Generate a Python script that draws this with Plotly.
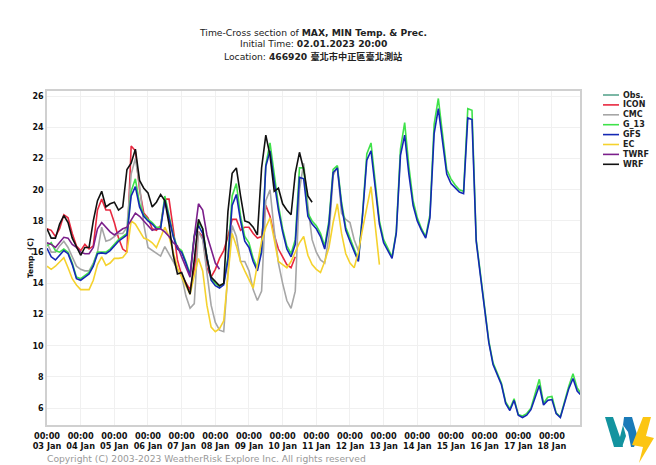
import pandas as pd
import plotly.graph_objects as go

# 3-hourly forecasts, every series starts at 03 Jan 00:00
icon = [17.5, 17.4, 17.0, 17.5, 18.4, 18.2, 17.2, 16.4, 16.1, 16.5, 16.2, 16.4, 18.7, 19.4, 18.7, 18.7,
        17.9, 16.9, 16.2, 16.0, 22.8, 22.5, 20.0, 18.5, 18.2, 17.5, 17.4, 17.7, 19.4, 19.4, 17.5, 15.5,
        14.5, 14.0, 13.6, 14.9, 17.3, 17.0, 15.0, 14.4, 14.9, 15.6, 16.1, 17.0, 18.1, 18.1, 17.4, 17.6,
        17.6, 17.2, 16.9, 17.0, 19.0, 18.3, 17.1, 16.2, 15.7, 15.2, 15.0, 15.7]
cmc = [16.6, 16.0, 16.0, 16.4, 16.7, 16.3, 15.7, 15.1, 14.9, 14.8, 14.8, 15.3, 16.0, 17.6, 16.7, 16.8,
       17.0, 17.2, 17.2, 17.6, 21.0, 22.0, 20.3, 17.8, 16.3, 16.1, 15.95, 15.75, 16.35, 15.9, 15.4, 14.9,
       14.5, 13.2, 12.4, 12.7, 17.3, 16.8, 14.5, 12.6, 11.5, 11.0, 10.9, 14.7, 17.7, 17.0, 15.4, 15.4,
       14.8, 13.6, 12.9, 13.5, 19.3, 20.0, 17.4, 15.3, 14.0, 12.9, 12.4, 13.5, 20.0, 21.7, 19.0, 16.8,
       16.0, 15.5, 15.3, 17.0, 20.9, 21.5, 18.5, 18.1, 17.9, 16.8, 16.1]
g_13 = [16.4, 16.6, 16.1, 16.0, 16.2, 16.0, 15.3, 14.4, 14.3, 14.5, 14.7, 15.2, 16.0, 16.0, 16.0, 16.2,
        16.5, 16.8, 17.0, 17.2, 19.9, 20.7, 19.1, 18.4, 18.1, 17.9, 17.6, 17.6, 19.6, 18.4, 17.1, 16.3,
        16.1, 15.4, 14.6, 17.1, 17.9, 17.5, 15.7, 14.3, 14.0, 13.8, 14.0, 15.7, 19.6, 20.4, 18.3, 17.0,
        16.6, 15.6, 15.0, 16.2, 21.6, 23.0, 20.9, 19.0, 17.5, 16.4, 15.9, 16.8, 21.4, 21.4, 18.5, 18.0,
        17.7, 17.2, 16.4, 18.0, 21.3, 21.55, 19.2, 17.6, 16.9, 16.2, 15.5, 18.5, 22.3, 23.0, 20.4, 18.0,
        16.8, 16.2, 15.7, 17.3, 22.6, 24.3, 21.5, 19.3, 18.2, 17.5, 17.0, 18.4, 24.2, 25.85, 23.4, 21.3,
        20.7, 20.3, 20.0, 19.9, 25.2, 25.1, 16.8, 14.6, 12.3, 10.3, 8.9, 8.2, 7.6, 6.4, 5.95, 6.6,
        5.6, 5.5, 5.65, 6.0, 6.9, 7.85, 6.3, 6.7, 6.75, 5.7, 5.45, 6.5, 7.4, 8.2, 7.3, 6.9]
gfs = [16.25, 15.7, 15.5, 15.8, 16.1, 15.9, 15.2, 14.3, 14.2, 14.4, 14.6, 15.1, 15.9, 15.95, 15.9, 16.1,
       16.4, 16.7, 16.9, 17.1, 19.6, 20.2, 18.9, 18.3, 18.0, 17.8, 17.5, 17.5, 19.35, 18.2, 17.0, 16.2,
       16.0, 15.3, 14.5, 17.0, 17.7, 17.2, 15.6, 14.2, 13.85, 13.7, 13.9, 15.5, 19.0, 19.7, 18.0, 16.7,
       16.3, 15.4, 14.8, 16.0, 21.5, 22.5, 20.5, 18.7, 17.3, 16.2, 15.7, 16.5, 20.8, 20.7, 18.3, 17.8,
       17.5, 17.0, 16.2, 17.8, 21.1, 21.4, 19.0, 17.4, 16.7, 16.0, 15.4, 18.4, 21.9, 22.5, 20.0, 17.8,
       16.6, 16.1, 15.6, 17.2, 22.2, 23.5, 21.0, 19.0, 18.0, 17.4, 16.9, 18.2, 23.6, 25.2, 23.0, 21.0,
       20.4, 20.1, 19.85, 19.75, 24.6, 24.5, 16.7, 14.5, 12.2, 10.2, 8.8, 8.1, 7.5, 6.3, 5.85, 6.5,
       5.55, 5.4, 5.55, 5.9, 6.7, 7.45, 6.2, 6.5, 6.55, 5.65, 5.4, 6.4, 7.25, 7.9, 7.1, 6.8]
ec = [15.1, 14.9, 15.1, 15.4, 15.65, 15.0, 14.3, 13.9, 13.6, 13.6, 13.6, 14.2, 15.2, 15.7, 15.15, 15.3,
      15.6, 15.6, 15.65, 16.0, 18.0, 17.8, 17.3, 16.9, 16.8, 16.6, 16.3, 16.9, 17.6, 17.0, 16.0, 15.0,
      14.4, 13.9, 13.3, 14.5, 15.6, 14.8, 12.6, 11.2, 10.9, 11.1, 11.6, 14.5, 17.2, 16.4, 15.4, 14.8,
      14.2, 13.7, 15.2, 16.7, 17.6, 18.2, 16.8, 15.4, 15.2, 15.0, 15.4, 16.0, 16.6, 17.0, 15.8, 15.2,
      14.9, 14.7, 15.4, 16.3, 17.9, 19.1, 17.2, 15.9, 15.3, 15.0, 16.0, 17.5, 18.9, 20.2, 17.7, 15.2]
twrf = [16.6, 16.5, 16.3, 16.6, 16.95, 16.9, 16.5, 16.3, 16.0, 15.9, 15.9, 16.3, 17.5, 17.9, 17.6, 17.3,
        17.1, 17.3, 17.5, 17.6, 18.1, 18.5, 18.3, 18.0, 17.7, 17.4, 17.5, 17.5, 17.3, 17.0, 16.6, 16.4,
        15.7, 15.0, 14.4, 17.0, 19.1, 18.7, 17.1, 16.2, 15.3, 14.9]
wrf = [17.5, 16.9, 16.9, 17.8, 18.35, 17.9, 16.9, 16.4, 15.8, 16.3, 16.3, 18.0, 19.3, 19.9, 18.9, 19.1,
       19.2, 18.7, 18.9, 21.3, 21.7, 22.6, 20.6, 20.1, 19.8, 18.9, 19.2, 19.7, 19.3, 17.8, 15.8, 14.6,
       14.7, 14.0, 13.3, 15.5, 18.1, 17.5, 15.6, 14.4, 14.1, 13.85, 14.0, 18.6, 21.05, 21.4, 19.6, 18.0,
       17.9, 17.6, 17.1, 21.4, 23.5, 22.2, 19.9, 20.1, 19.1, 18.7, 18.4, 21.05, 22.4, 21.3, 19.6, 19.2]

series_names = ["Obs.", "ICON", "CMC", "G_13", "GFS", "EC", "TWRF", "WRF"]
series_values = [[], icon, cmc, g_13, gfs, ec, twrf, wrf]
series_colors = ["#5aa58f", "#e8283f", "#a6a6a6", "#3fe24a", "#1428b4", "#f5d22e", "#7b1f8b", "#111111"]

days = pd.date_range("2023-01-03", "2023-01-18", freq="D")
tick_labels = [d.strftime("%H:%M<br>%d %b") for d in days]

title_lines = ["Time-Cross section of <b>MAX, MIN Temp. &amp; Prec.</b>",
               "Initial Time: <b>02.01.2023 20:00</b>",
               "Location: <b>466920 臺北市中正區臺北測站</b>"]
title_rows = [32, 44, 57]

FONT = "DejaVu Sans, Noto Sans CJK TC"
PLOT_L, PLOT_R, PLOT_T, PLOT_B = 47, 580, 91, 425


def px_to_paper(x, y):
    return (x - PLOT_L) / (PLOT_R - PLOT_L), (PLOT_B - y) / (PLOT_B - PLOT_T)


def polygon(points, color):
    path = ""
    for i, (x, y) in enumerate(points):
        xp, yp = px_to_paper(x, y)
        path += ("M" if i == 0 else "L") + f"{xp:.4f},{yp:.4f} "
    return dict(type="path", path=path + "Z", xref="paper", yref="paper",
                fillcolor=color, line=dict(width=0), layer="above")


fig = go.Figure()
for name, values, color in zip(series_names, series_values, series_colors):
    if not values:
        continue
    times = pd.date_range("2023-01-03", periods=len(values), freq="3h")
    fig.add_trace(go.Scatter(x=times, y=values, mode="lines", name=name,
                             line=dict(color=color, width=1.6), showlegend=False))

shapes = [
    # logo
    polygon([(605, 417), (613, 417), (620, 437), (623, 447), (614, 447)], "#13939f"),
    polygon([(614, 447), (620, 437), (623, 425), (626, 436), (622, 447)], "#13939f"),
    polygon([(624, 417), (632, 417), (638, 438), (634, 447), (631, 447), (628, 432), (623, 425)], "#1a7ab8"),
    polygon([(643, 417), (651, 417), (646, 436), (654, 438), (639, 463), (643, 447), (632, 445)], "#fcc512"),
]

annotations = []
for line, row in zip(title_lines, title_rows):
    xp, yp = px_to_paper(313, row)
    annotations.append(dict(text=line, x=xp, y=yp, xref="paper", yref="paper", showarrow=False,
                            yanchor="middle", borderpad=0,
                            font=dict(family=FONT, size=9.2, color="#222222")))

xp, yp = px_to_paper(46, 458)
annotations.append(dict(text="Copyright (C) 2003-2023 WeatherRisk Explore Inc. All rights reserved",
                        x=xp, y=yp, xref="paper", yref="paper", showarrow=False,
                        xanchor="left", yanchor="middle", borderpad=0,
                        font=dict(family=FONT, size=9.2, color="#999999")))
xp, yp = px_to_paper(30, 258)
annotations.append(dict(text="<b>Temp. (C)</b>", x=xp, y=yp, xref="paper", yref="paper", showarrow=False,
                        xanchor="center", yanchor="middle", textangle=-90,
                        font=dict(family=FONT, size=7.5, color="#111111")))

# legend rows are tighter than plotly's own legend allows
for i, (name, color) in enumerate(zip(series_names, series_colors)):
    row_y = 95 + i * 9.9
    x0, y0 = px_to_paper(603, row_y)
    x1, _ = px_to_paper(619, row_y)
    shapes.append(dict(type="line", xref="paper", yref="paper", x0=x0, x1=x1, y0=y0, y1=y0,
                       line=dict(color=color, width=1.6)))
    xt, _ = px_to_paper(621, row_y)
    annotations.append(dict(text=f"<b>{name}</b>", x=xt, y=y0, xref="paper", yref="paper",
                            showarrow=False, xanchor="left", yanchor="middle",
                            font=dict(family=FONT, size=8, color="#222222")))

fig.update_layout(
    width=656, height=465,
    margin=dict(l=PLOT_L, r=656 - PLOT_R, t=PLOT_T, b=465 - PLOT_B, autoexpand=False),
    paper_bgcolor="white", plot_bgcolor="white",
    showlegend=False, shapes=shapes, annotations=annotations,
    xaxis=dict(range=["2023-01-03 00:00", "2023-01-18 20:00"], tickvals=days, ticktext=tick_labels,
               tickangle=0, ticks="", showgrid=True, gridcolor="#f0f0f0", gridwidth=1,
               showline=True, linecolor="#d0d0d0", linewidth=1.5, mirror=True, zeroline=False,
               ticklabelstandoff=2,
               tickfont=dict(family=FONT, size=8.2, color="#111111", weight="bold")),
    yaxis=dict(range=[4.92, 26.33], tickvals=list(range(6, 27, 2)), ticks="", showgrid=True,
               gridcolor="#f0f0f0", gridwidth=1, showline=True, linecolor="#d0d0d0", linewidth=1.5,
               mirror=True, zeroline=False,
               tickfont=dict(family=FONT, size=8, color="#111111", weight="bold")),
)

fig.write_html("out.html", post_script="document.body.style.margin='0';",
               config=dict(displayModeBar=False))
